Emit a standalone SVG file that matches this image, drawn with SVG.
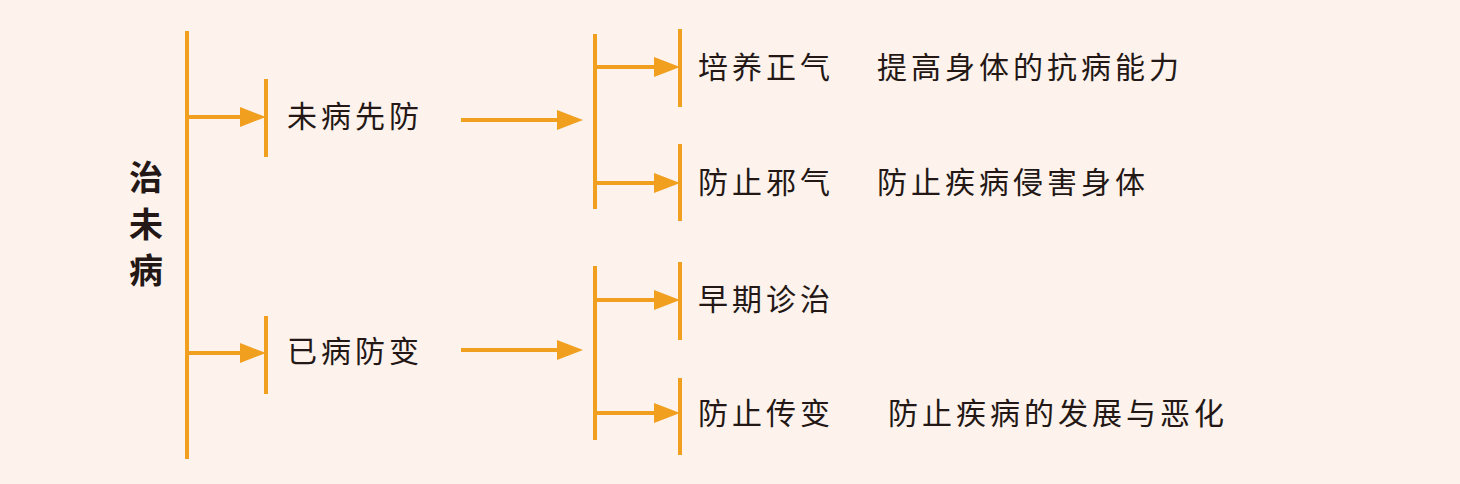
<svg xmlns="http://www.w3.org/2000/svg" width="1460" height="484" viewBox="0 0 1460 484">
<style>
.l{stroke:#F09F1E;stroke-width:4;fill:none}
.h{fill:#F09F1E}
.t{font-family:"Noto Sans CJK SC",sans-serif;font-size:30px;fill:#231815;letter-spacing:4px}
.b{font-weight:bold;font-size:34px;letter-spacing:0}
</style>
<rect width="1460" height="484" fill="#FDF2EC"/>
<g id="connectors">
<path class="l" d="M187,31V459M266,79V157M266,316V394M595,34V209M595,266V440M680,29V107M680,144V221M680,262V340M680,378V455"/>
<path class="l" d="M189,117H245M189,353H245M461,120H562M461,350H562M597,67H660M597,183H660M597,300H660M597,413H660"/>
<path class="h" d="M240,107L266,117L240,127ZM240,343L266,353L240,363ZM557,110L583,120L557,130ZM557,340L583,350L557,360ZM654,57L680,67L654,77ZM654,173L680,183L654,193ZM654,290L680,300L654,310ZM654,403L680,413L654,423Z"/>
</g>
<g id="root"><text class="t b" x="146" y="190" text-anchor="middle">治</text><text class="t b" x="146" y="237" text-anchor="middle">未</text><text class="t b" x="146" y="283" text-anchor="middle">病</text></g>
<g id="n1"><text class="t" x="287" y="127">未病先防</text></g>
<g id="n2"><text class="t" x="287" y="362">已病防变</text></g>
<g id="n3"><text class="t" x="698" y="78">培养正气</text><text class="t" x="877" y="78">提高身体的抗病能力</text></g>
<g id="n4"><text class="t" x="698" y="193">防止邪气</text><text class="t" x="877" y="193">防止疾病侵害身体</text></g>
<g id="n5"><text class="t" x="698" y="310">早期诊治</text></g>
<g id="n6"><text class="t" x="698" y="424">防止传变</text><text class="t" x="888" y="424">防止疾病的发展与恶化</text></g>
</svg>
